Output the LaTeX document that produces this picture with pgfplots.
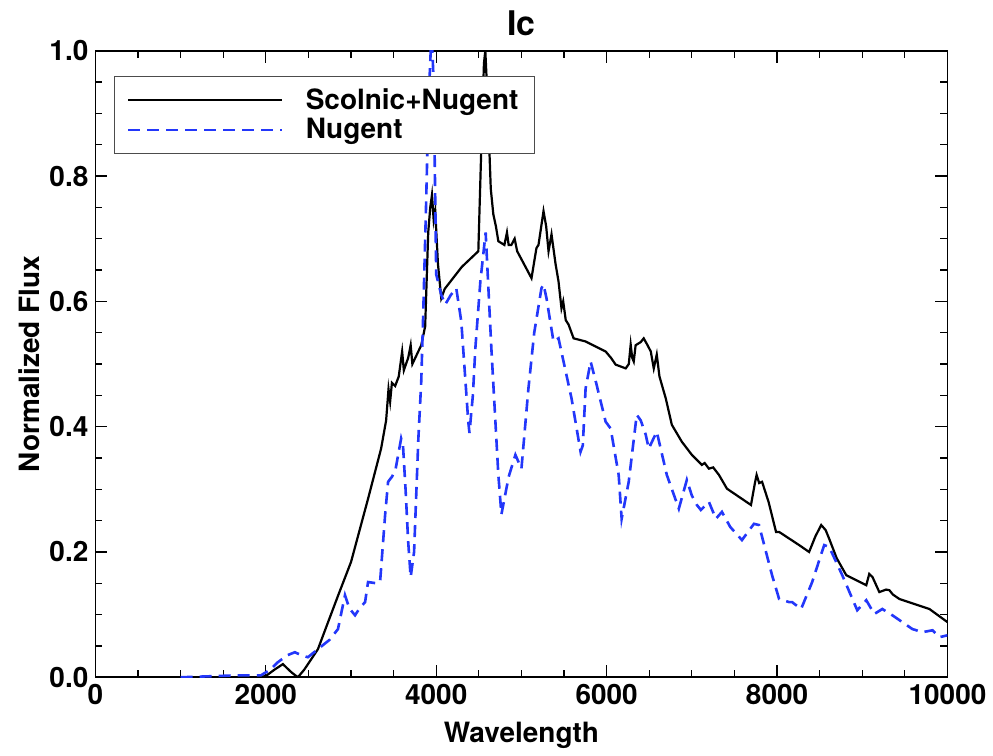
\documentclass[border=0pt]{standalone}
\usepackage{fontspec}
\setmainfont{TeX Gyre Heros}
\usepackage{pgfplots}
\pgfplotsset{compat=1.18}
\definecolor{nugblue}{RGB}{35,55,250}

\begin{document}
\begin{tikzpicture}
\begin{axis}[
  scale only axis,
  width=425bp, height=312.5bp,
  xmin=0, xmax=10000, ymin=0, ymax=1,
  xtick={0,2000,4000,6000,8000,10000},
  ytick={0,0.2,0.4,0.6,0.8,1.0},
  scaled x ticks=false,
  minor x tick num=3, minor y tick num=3,
  tick align=inside,
  major tick length=6bp, minor tick length=3.5bp,
  tick style={black, line width=0.6bp},
  axis line style={line width=0.8bp},
  /pgf/number format/assume math mode=true,
  /pgf/number format/1000 sep={},
  yticklabel style={/pgf/number format/.cd, fixed, fixed zerofill, precision=1},
  tick label style={font=\bfseries\fontsize{14}{16}\selectfont},
  label style={font=\bfseries\fontsize{14}{16}\selectfont},
  xlabel={Wavelength},
  ylabel={Normalized Flux},
  xlabel style={yshift=-2bp},
  ylabel style={yshift=-2bp},
  title={Ic},
  title style={font=\bfseries\fontsize{17}{19}\selectfont, yshift=-2bp},
  legend cell align=left,
  legend style={at={(0.022,0.96)}, anchor=north west, draw=black!70, line width=0.6bp,
    font=\bfseries\fontsize{14}{14}\selectfont, row sep=-1bp, inner xsep=6bp, inner ysep=4bp,
    /tikz/every odd column/.style={column sep=9bp}},
  legend image code/.code={\draw[#1] (0bp,0bp) -- (77bp,0bp);},
]
\addplot[black, line width=1.1bp] coordinates {
(0,0) (1900,0) (2000,0.002) (2100,0.012) (2200,0.021) (2300,0.008) (2376,0.0)
(2450,0.012) (2612,0.045) (2750,0.095) (2847,0.13) (3000,0.184) (3200,0.285)
(3353,0.365) (3412,0.41) (3440,0.46) (3459,0.44) (3480,0.47) (3518,0.465)
(3560,0.48) (3600,0.52) (3620,0.49) (3671,0.51) (3700,0.53) (3720,0.5)
(3824,0.53) (3870,0.56) (3906,0.71) (3930,0.75) (3950,0.77) (3970,0.73)
(3988,0.745) (4020,0.66) (4059,0.605) (4100,0.62) (4300,0.655) (4494,0.68)
(4530,0.85) (4560,0.98) (4576,1.0) (4600,0.93) (4640,0.78) (4670,0.739)
(4700,0.72) (4729,0.696) (4800,0.69) (4830,0.71) (4850,0.69) (4882,0.69)
(4920,0.7) (4950,0.68) (5118,0.637) (5176,0.685) (5200,0.69) (5259,0.744)
(5290,0.72) (5318,0.68) (5353,0.707) (5400,0.66) (5435,0.632) (5470,0.589)
(5490,0.6) (5520,0.57) (5553,0.563) (5612,0.541) (5753,0.536) (5988,0.52)
(6050,0.51) (6106,0.499) (6224,0.493) (6260,0.5) (6282,0.531) (6300,0.51)
(6318,0.504) (6340,0.53) (6400,0.535) (6435,0.541) (6480,0.53) (6518,0.52)
(6553,0.493) (6588,0.515) (6620,0.48) (6694,0.445) (6765,0.403) (6882,0.376)
(7000,0.355) (7118,0.339) (7150,0.342) (7200,0.333) (7250,0.335) (7318,0.323)
(7412,0.301) (7694,0.275) (7740,0.31) (7760,0.323) (7790,0.31) (7824,0.312)
(7900,0.28) (7988,0.232) (8024,0.232) (8259,0.211) (8376,0.2) (8450,0.225)
(8518,0.243) (8570,0.235) (8612,0.221) (8700,0.19) (8812,0.163) (9047,0.147)
(9082,0.165) (9120,0.16) (9200,0.136) (9280,0.14) (9318,0.139) (9360,0.132)
(9435,0.125) (9788,0.109) (10000,0.088)
};
\addlegendentry{Scolnic+Nugent}
\addplot[nugblue, line width=1.3bp, dash pattern=on 6bp off 3.5bp] coordinates {
(1000,0) (1635,0.003) (1941,0.003) (2050,0.012) (2141,0.024) (2250,0.035)
(2341,0.04) (2420,0.035) (2494,0.032) (2612,0.045) (2750,0.06) (2847,0.077)
(2929,0.131) (2980,0.11) (3047,0.099) (3100,0.11) (3165,0.12) (3200,0.152)
(3300,0.15) (3341,0.152) (3400,0.259) (3435,0.312) (3480,0.32) (3520,0.33)
(3588,0.381) (3610,0.37) (3640,0.3) (3671,0.216) (3700,0.16) (3740,0.2)
(3790,0.38) (3824,0.472) (3847,0.579) (3880,0.75) (3910,0.92) (3945,1.03)
(3970,0.95) (4000,0.643) (4060,0.61) (4106,0.595) (4170,0.61) (4235,0.621)
(4294,0.568) (4376,0.408) (4390,0.39) (4430,0.45) (4459,0.525) (4518,0.632)
(4580,0.71) (4647,0.525) (4729,0.323) (4765,0.26) (4850,0.32) (4929,0.355)
(5000,0.333) (5082,0.461) (5150,0.55) (5235,0.621) (5259,0.627) (5294,0.605)
(5376,0.536) (5435,0.541) (5588,0.445) (5694,0.36) (5720,0.37) (5753,0.461)
(5812,0.504) (5882,0.467) (5988,0.408) (6047,0.397) (6141,0.323) (6176,0.253)
(6259,0.312) (6353,0.419) (6400,0.41) (6459,0.387) (6494,0.365) (6588,0.392)
(6706,0.323) (6847,0.269) (6941,0.315) (7000,0.29) (7059,0.275) (7106,0.267)
(7200,0.28) (7282,0.253) (7353,0.264) (7450,0.24) (7588,0.219) (7729,0.245)
(7788,0.243) (7941,0.163) (8024,0.125) (8141,0.12) (8176,0.12) (8282,0.109)
(8412,0.152) (8553,0.211) (8612,0.208) (8765,0.163) (8941,0.107) (9047,0.123)
(9141,0.101) (9235,0.109) (9353,0.099) (9588,0.077) (9706,0.072) (9824,0.075)
(9906,0.064) (10000,0.067)
};
\addlegendentry{Nugent}
\end{axis}
\path (current bounding box.south west) ++(-6bp,0) (current bounding box.north east) ++(0,2bp);
\end{tikzpicture}
\end{document}
